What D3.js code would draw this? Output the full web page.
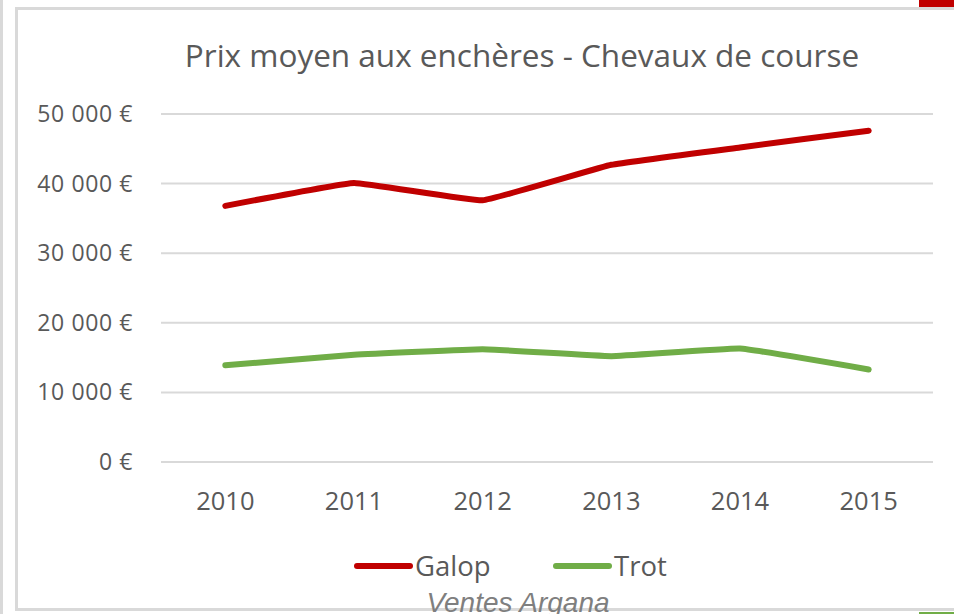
<!DOCTYPE html>
<html>

<head>
    <meta charset="UTF-8" />
    <title>Prix moyen aux enchères</title>
    <script src="https://d3js.org/d3.v7.min.js"></script>
    <style>
        body {
            margin: 0;
            background: #fff;
        }

        text {
            font-family: "Open Sans", sans-serif;
            fill: #595959;
        }

        .grid line {
            stroke: #d9d9d9;
            stroke-width: 2px;
        }

        .serie {
            fill: none;
            stroke-width: 6px;
            stroke-linejoin: round;
            stroke-linecap: round;
        }
    </style>
</head>

<body>
    <svg id="chart" width="954" height="614"></svg>

    <script>
        // donnees
        var years = ['2010', '2011', '2012', '2013', '2014', '2015'];
        var galop = [36800, 40100, 37600, 42700, 45200, 47600];
        var trot = [13900, 15400, 16200, 15200, 16300, 13300];
        var yTicks = [0, 10000, 20000, 30000, 40000, 50000];

        var series = [
            { name: 'Galop', values: galop, color: '#c00000' },
            { name: 'Trot', values: trot, color: '#70ad47' }
        ];

        var svg = d3.select('#chart');

        // cadres autour du graphique
        svg.append('line')
            .attr('x1', 1.5).attr('x2', 1.5)
            .attr('y1', 0).attr('y2', 614)
            .attr('stroke', '#d9d9d9').attr('stroke-width', 3);
        svg.append('rect')
            .attr('x', 16.5).attr('y', 8.5)
            .attr('width', 960).attr('height', 601)
            .attr('fill', 'none')
            .attr('stroke', '#d9d9d9').attr('stroke-width', 3);
        svg.append('rect')
            .attr('x', 919).attr('y', 0)
            .attr('width', 35).attr('height', 7)
            .attr('fill', '#c00000');
        svg.append('rect')
            .attr('x', 919).attr('y', 612)
            .attr('width', 35).attr('height', 2)
            .attr('fill', '#70ad47');

        var x = d3.scaleBand()
            .domain(years)
            .range([161, 933]);

        var y = d3.scaleLinear()
            .domain([0, 50000])
            .range([462, 114]);

        var fmt = function (d) {
            return d3.format(',')(d).replace(/,/g, ' ') + ' €';
        };

        // grille horizontale + labels
        var grid = svg.append('g').attr('class', 'grid');
        grid.selectAll('line')
            .data(yTicks)
            .enter()
            .append('line')
            .attr('x1', 161).attr('x2', 933)
            .attr('y1', function (d) { return y(d); })
            .attr('y2', function (d) { return y(d); });

        svg.append('g')
            .selectAll('text')
            .data(yTicks)
            .enter()
            .append('text')
            .attr('x', 133)
            .attr('y', function (d) { return y(d) + 8; })
            .attr('text-anchor', 'end')
            .style('font-size', '23px')
            .style('letter-spacing', '0.6px')
            .text(fmt);

        // annees
        svg.append('g')
            .selectAll('text')
            .data(years)
            .enter()
            .append('text')
            .attr('x', function (d) { return x(d) + x.bandwidth() / 2; })
            .attr('y', 510)
            .attr('text-anchor', 'middle')
            .style('font-size', '25.5px')
            .text(function (d) { return d; });

        // courbes (lissage leger)
        var line = d3.line()
            .x(function (d, i) { return x(years[i]) + x.bandwidth() / 2; })
            .y(function (d) { return y(d); })
            .curve(d3.curveCardinal.tension(0.75));

        svg.selectAll('.serie')
            .data(series)
            .enter()
            .append('path')
            .attr('class', 'serie')
            .attr('stroke', function (d) { return d.color; })
            .attr('d', function (d) { return line(d.values); });

        // titre
        svg.append('text')
            .attr('x', 522)
            .attr('y', 67)
            .attr('text-anchor', 'middle')
            .style('font-size', '31.5px')
            .text('Prix moyen aux enchères - Chevaux de course');

        // legende
        var legendX = [357, 556];
        var legend = svg.selectAll('.legend')
            .data(series)
            .enter()
            .append('g')
            .attr('transform', function (d, i) { return 'translate(' + legendX[i] + ',566)'; });
        legend.append('line')
            .attr('x1', 0).attr('x2', 53)
            .attr('stroke', function (d) { return d.color; })
            .attr('stroke-width', 6)
            .attr('stroke-linecap', 'round');
        legend.append('text')
            .attr('x', 58)
            .attr('y', 10)
            .style('font-size', '27.5px')
            .text(function (d) { return d.name; });

        // source
        svg.append('text')
            .attr('x', 518)
            .attr('y', 612)
            .attr('text-anchor', 'middle')
            .style('font-family', '"Liberation Sans", Arial, sans-serif')
            .style('font-style', 'italic')
            .style('font-size', '28px')
            .style('fill', '#7f7f7f')
            .text('Ventes Argana');
    </script>
</body>

</html>
